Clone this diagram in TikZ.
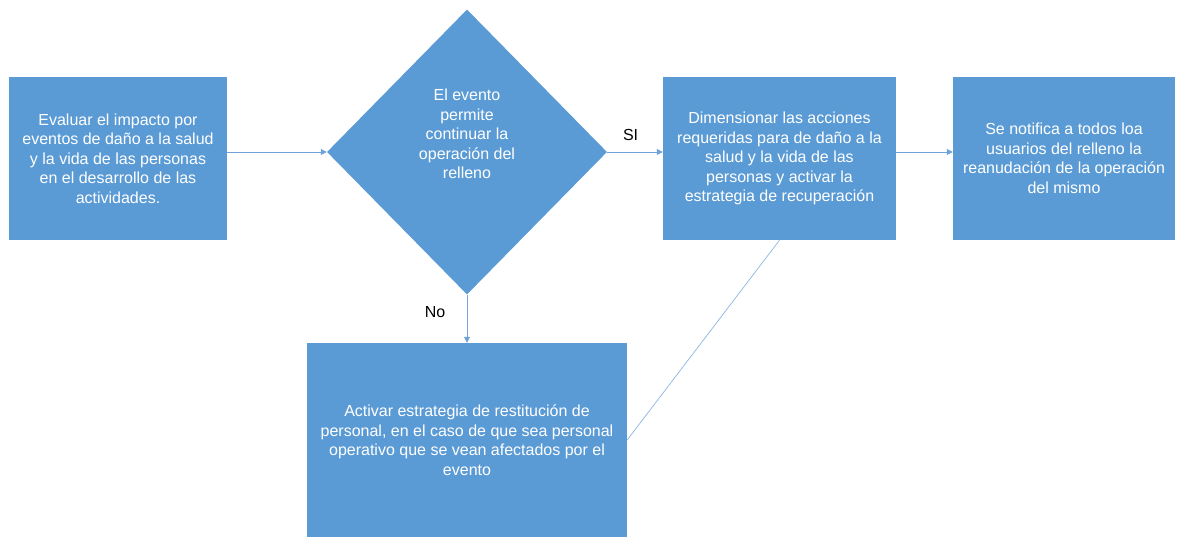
\documentclass[tikz,border=0pt]{standalone}
\usepackage{fontspec}
\setmainfont{Liberation Sans}
\usetikzlibrary{shapes.geometric,arrows.meta}
\definecolor{boxblue}{HTML}{5B9BD5}
\definecolor{lineblue}{HTML}{6FA3D8}
\begin{document}
\begin{tikzpicture}[x=1pt,y=-1pt,
  every node/.style={font=\fontsize{16}{19.5}\selectfont},
  procbox/.style={rectangle, fill=boxblue, draw=none, text=white, align=center, inner sep=0pt},
  decbox/.style={diamond, fill=boxblue, draw=none, inner sep=0pt},
  flow/.style={draw=lineblue, line width=0.8pt, -{Triangle[width=6pt,length=6pt]}},
  link/.style={draw=lineblue!80, line width=0.7pt},
  lbl/.style={text=black}
]
\useasboundingbox (0,0) rectangle (1177,537);
\node[procbox, minimum width=218, minimum height=163] (b1) at (118,158.5)
  {Evaluar el impacto por\\eventos de daño a la salud\\y la vida de las personas\\en el desarrollo de las\\actividades.};
\node[decbox, minimum width=280, minimum height=285] (dec) at (467,152) {};
\node[text=white, align=center] (dectext) at (467,134)
  {El evento\\permite\\continuar la\\operación del\\relleno};
\node[procbox, minimum width=233, minimum height=163] (b3) at (779.5,158.5)
  {Dimensionar las acciones\\requeridas para de daño a la\\salud y la vida de las\\personas y activar la\\estrategia de recuperación};
\node[procbox, minimum width=222, minimum height=163] (b4) at (1064,158.5)
  {Se notifica a todos loa\\usuarios del relleno la\\reanudación de la operación\\del mismo};
\node[procbox, minimum width=320, minimum height=194] (b5) at (467,440)
  {Activar estrategia de restitución de\\personal, en el caso de que sea personal\\operativo que se vean afectados por el\\evento};
\draw[flow] (b1.east |- dec.west) -- (dec.west);
\draw[flow] (dec.east) -- node[lbl, pos=0.42, above=8pt] (si) {SI} (b3.west |- dec.east);
\draw[flow] (b3.east |- dec.east) -- (b4.west |- dec.east);
\draw[flow] (dec.south) -- node[lbl, pos=0.36, left=18pt] (no) {No} (dec.south |- b5.north);
\draw[link] (b5.east) -- (b3.south);
\end{tikzpicture}
\end{document}
